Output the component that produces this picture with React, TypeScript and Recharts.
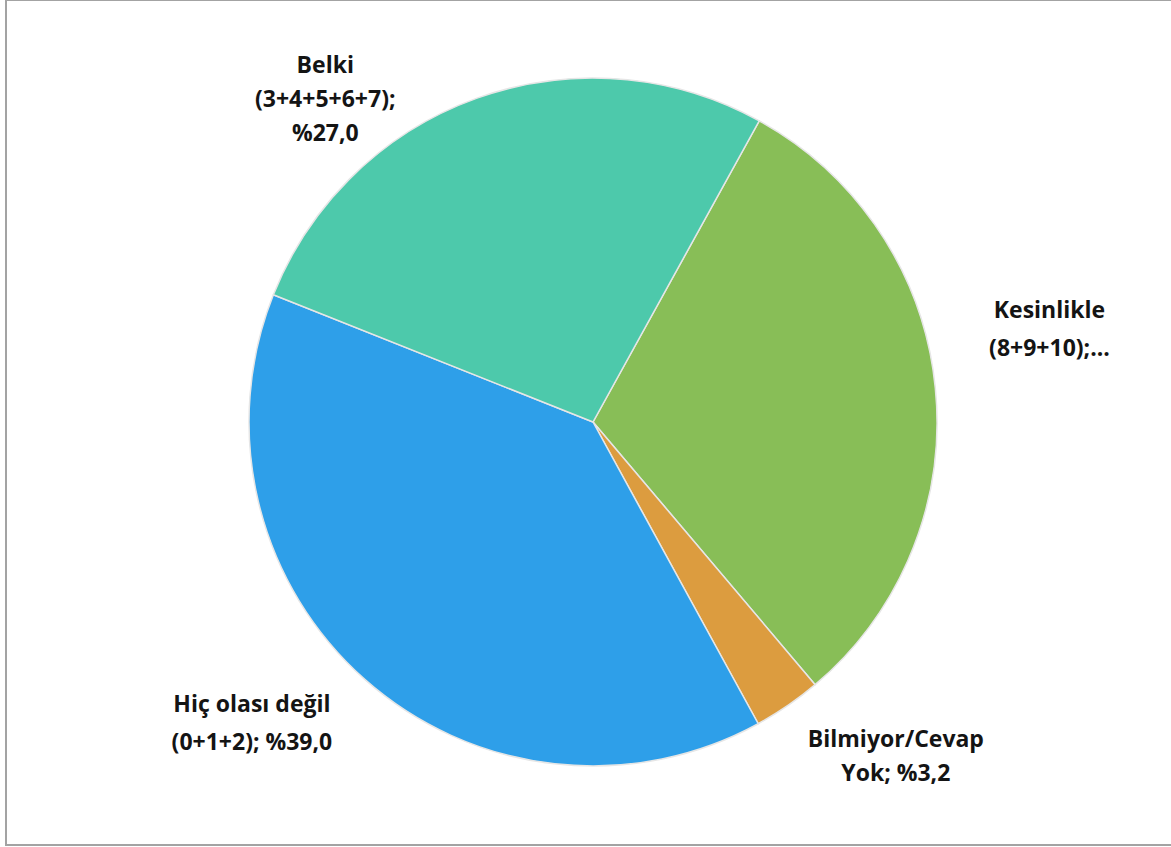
import { PieChart, Pie, Cell } from 'recharts';

// Pie shares (%), listed clockwise starting at the Belki/Kesinlikle border
const categories = ['Kesinlikle (8+9+10)', 'Bilmiyor/Cevap Yok', 'Hiç olası değil (0+1+2)', 'Belki (3+4+5+6+7)'];
const shares = [30.8, 3.2, 39.0, 27.0];
const labelLines = [
  ['Kesinlikle', '(8+9+10);...'],
  ['Bilmiyor/Cevap', 'Yok; %3,2'],
  ['Hiç olası değil', '(0+1+2); %39,0'],
  ['Belki', '(3+4+5+6+7);', '%27,0'],
];

const colors = ['#88BE57', '#DC9C3F', '#2E9FE9', '#4DC9AB'];

// where each label block sits: clockwise angle from 12 o'clock + distance from centre
const labelLayout = [
  { angle: 78.4, dist: 466, lineH: 38 },
  { angle: 137.7, dist: 450, lineH: 34 },
  { angle: 228.7, dist: 454, lineH: 38 },
  { angle: 320.4, dist: 420, lineH: 34 },
];

const data = categories.map((name, i) => ({ name, value: shares[i] }));

const renderLabel = (props: any) => {
  const { cx, cy, index } = props;
  const lay = labelLayout[index];
  const rad = (lay.angle * Math.PI) / 180;
  const x = cx + lay.dist * Math.sin(rad);
  const y = cy - lay.dist * Math.cos(rad);
  const lines = labelLines[index];
  const top = y - ((lines.length - 1) * lay.lineH) / 2;
  return (
    <text
      key={`lbl-${index}`}
      x={x}
      y={top}
      textAnchor="middle"
      dominantBaseline="central"
      fontFamily="'Open Sans', sans-serif"
      fontWeight={700}
      fontSize={23}
      fill="#141414"
    >
      {lines.map((ln, i) => (
        <tspan key={i} x={x} y={top + i * lay.lineH}>
          {ln}
        </tspan>
      ))}
    </text>
  );
};

export default function App() {
  return (
    <div style={{ position: 'absolute', left: 0, top: 0, width: 1171, height: 847, background: '#fff', overflow: 'hidden' }}>
      <div
        style={{
          position: 'absolute',
          left: 5,
          top: -1,
          width: 1180,
          height: 847,
          border: '2px solid #a3a3a3',
          boxSizing: 'border-box',
        }}
      />
      <div style={{ position: 'absolute', left: 0, top: 0 }}>
        <PieChart width={1171} height={847} margin={{ top: 0, right: 0, bottom: 0, left: 0 }}>
          <Pie
            data={data}
            dataKey="value"
            nameKey="name"
            cx={593}
            cy={422}
            outerRadius={344}
            startAngle={61.1}
            endAngle={-298.9}
            stroke="#e6e6e6"
            strokeWidth={1.5}
            label={renderLabel}
            labelLine={false}
            isAnimationActive={false}
          >
            {data.map((d, i) => (
              <Cell key={d.name} fill={colors[i]} />
            ))}
          </Pie>
        </PieChart>
      </div>
    </div>
  );
}
